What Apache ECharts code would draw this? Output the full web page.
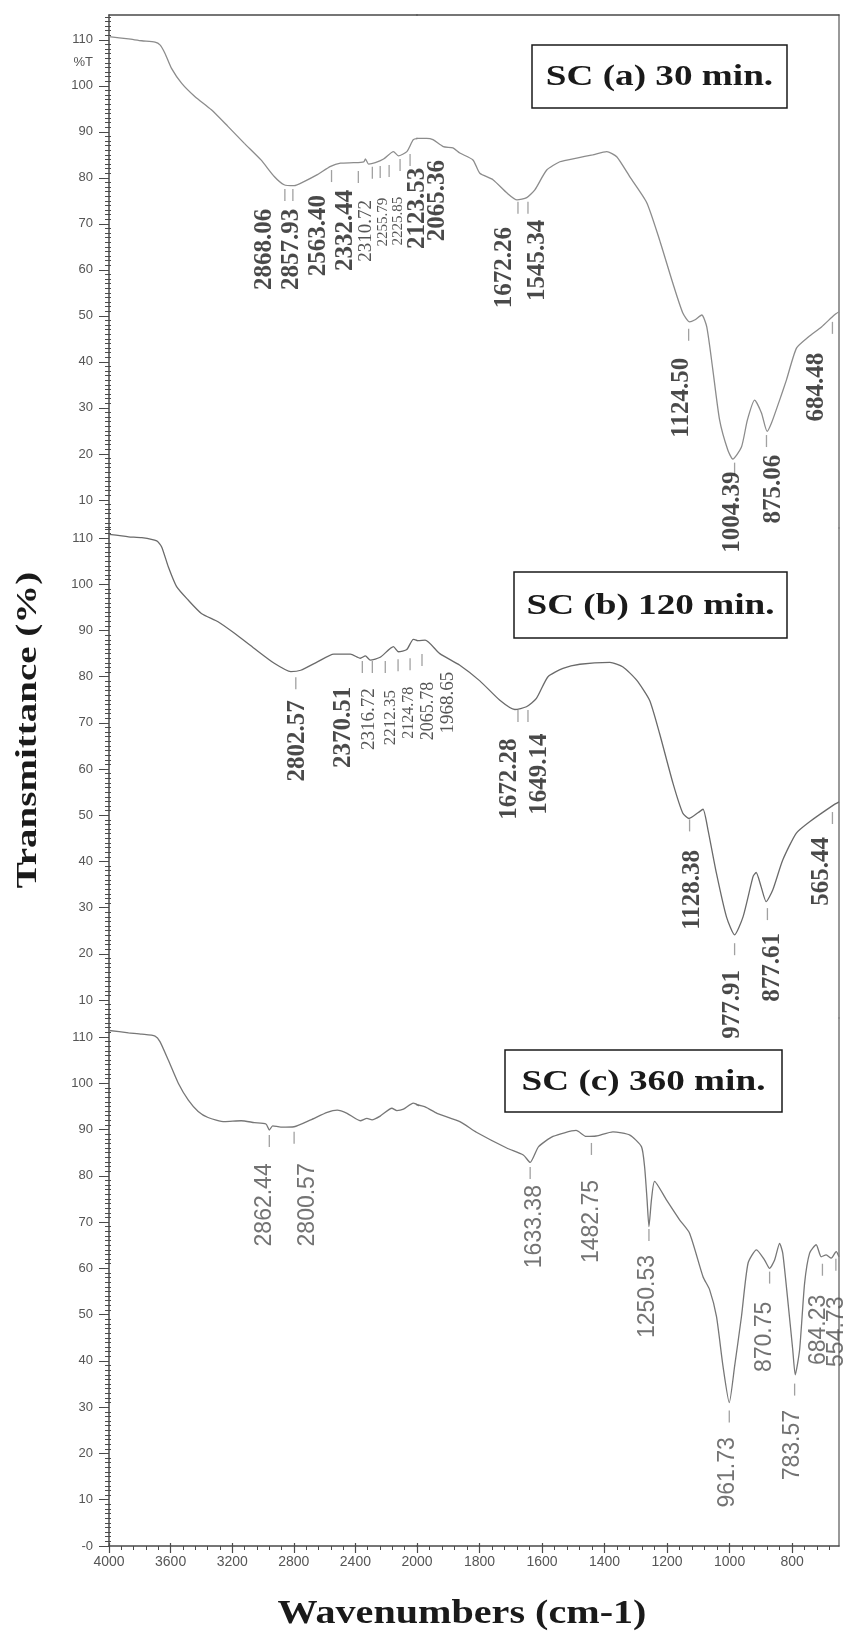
<!DOCTYPE html>
<html>
<head>
<meta charset="utf-8">
<script src="https://cdn.jsdelivr.net/npm/echarts@6.0.0/dist/echarts.min.js"></script>
<style>
  html, body { margin: 0; padding: 0; background: #fff; }
  #chart { width: 851px; height: 1635px; }
</style>
</head>
<body>
<div id="chart"></div>
<script>
// FTIR spectra, wavenumber (cm-1) vs %T
const waveA = [4000,3873,3787,3701,3669,3637,3594,3529,3443,3335,3228,3121,3013,2927,2863,2798,2734,2647,2561,2497,2411,2346,2335,2314,2271,2217,2153,2121,2066,2024,1996,1969,1949,1916,1885,1863,1821,1799,1757,1712,1680,1649,1623,1585,1543,1489,1438,1393,1361,1319,1265,1224,1182,1150,1128,1112,1089,1073,1054,1032,1006,990,962,943,920,898,880,866,840,818,786,748,706,665,650];
const transA = [110.7,110.2,109.8,109.5,108.9,107.1,103.8,100.6,97.7,94.8,91.2,87.5,83.9,80.3,78.5,78.3,79.2,80.7,82.5,83.2,83.3,83.5,84.1,83.0,83.3,84.1,85.7,84.8,85.7,88.3,88.6,88.6,88.3,86.8,86.5,85.4,83.9,81.0,79.6,76.7,75.2,75.7,77.4,81.7,83.5,84.3,85.0,85.7,84.6,80.2,74.6,66.5,57.2,50.7,48.7,49.1,50.2,47.6,38.5,27.4,20.9,18.9,21.5,27.4,31.7,28.9,24.9,26.7,31.7,36.1,43.0,45.4,47.6,50.2,50.9];

const waveB = [4000,3873,3787,3690,3658,3615,3561,3486,3400,3292,3185,3056,2927,2819,2755,2647,2540,2432,2368,2335,2303,2239,2153,2121,2066,2024,1996,1974,1927,1863,1799,1735,1687,1650,1618,1581,1533,1479,1383,1341,1298,1256,1224,1181,1150,1130,1100,1085,1069,1042,1010,984,957,925,915,899,883,862,830,787,744,668,650];
const transB = [110.8,110.3,110.1,109.4,108.1,103.8,99.5,96.6,93.7,91.9,89.4,86.1,82.9,81.1,81.4,83.2,84.9,84.9,84.0,84.5,83.6,84.2,86.5,85.4,85.9,88.1,87.8,87.9,85.0,82.5,79.1,74.9,72.9,73.5,75.3,80.0,81.8,82.7,83.1,82.1,79.3,74.9,67.7,56.9,50.5,49.3,50.6,51.3,46.8,37.4,28.0,24.1,28.0,36.7,37.6,34.5,31.3,33.8,40.3,46.1,48.6,52.2,52.9];

const waveC = [4000,3873,3787,3701,3669,3615,3550,3486,3421,3357,3250,3142,3056,2981,2959,2937,2884,2798,2690,2583,2518,2454,2368,2325,2292,2239,2163,2131,2088,2024,1974,1936,1863,1810,1713,1660,1638,1611,1565,1491,1459,1427,1373,1319,1282,1272,1264,1258,1250,1240,1202,1160,1128,1085,1064,1042,1021,1001,984,962,941,914,888,872,856,840,830,814,798,790,776,760,744,723,707,691,675,659,650];
const transC = [111.4,110.9,110.6,110.2,109.0,105.0,100.0,96.4,93.9,92.6,91.7,91.9,91.5,91.2,89.9,90.8,90.5,90.6,92.1,93.7,94.2,93.5,91.9,92.4,92.1,92.9,94.6,94.1,94.4,95.7,94.9,93.5,91.7,89.4,86.0,84.5,82.9,86.3,88.5,89.8,88.5,88.6,89.5,88.8,86.3,82.0,74.8,69.0,74.8,78.8,74.8,70.5,67.6,58.2,55.4,49.6,38.8,31.0,38.8,49.6,61.1,64.0,61.8,60.0,61.8,65.4,63.3,53.2,42.4,37.0,42.4,56.8,63.3,65.1,62.5,62.9,62.2,63.6,62.5];

// peak picks: text, where the text stands (wave, top %T), where its little marker sits
const peakTextA = ['2868.06','2857.93','2563.40','2332.44','2310.72','2255.79','2225.85','2123.53','2065.36','1672.26','1545.34','1124.50','1004.39','875.06','684.48'];
const labelWaveA = [2987,2813,2639,2465,2329,2219,2123,1997,1933,1719,1613,1153,991,859,722];
const labelTopA = [73.3,73.3,76.3,77.4,75.2,75.7,75.9,82.2,83.9,69.3,70.9,40.9,16.2,19.8,42.0];
const markWaveA = [2858,2806,2555,2381,2290,2239,2181,2110,2045,1677,1645,1131,984,882,671];
const markTA = [76.3,76.3,80.4,80.2,81.1,81.3,81.5,82.8,83.9,73.5,73.5,45.9,16.8,22.8,47.4];

const peakTextB = ['2802.57','2370.51','2316.72','2212.35','2124.78','2065.78','1968.65','1672.28','1649.14','1128.38','977.91','877.61','565.44'];
const labelWaveB = [2776,2475,2314,2174,2056,1964,1900,1703,1607,1117,990,862,707];
const labelTopB = [74.9,77.8,77.5,77.1,77.8,78.9,81.1,66.6,67.7,42.5,16.5,24.5,45.3];
const markWaveB = [2787,2355,2290,2206,2123,2045,1984,1677,1645,1128,984,879,671];
const markTB = [78.6,82.1,82.1,82.1,82.5,82.7,83.6,71.5,71.5,47.8,21.0,28.6,49.4];

const peakTextC = ['2862.44','2800.57','1633.38','1482.75','1250.53','961.73','870.75','783.57','684.23','554.73'];
const labelWaveC = [2992,2712,1623,1442,1261,1005,888,797,716,657];
const labelTopC = [82.7,82.7,78.0,79.1,62.9,23.5,52.8,29.4,54.3,53.9];
const markWaveC = [2959,2798,1638,1442,1258,1001,872,792,703,660];
const markTC = [87.5,88.2,80.6,85.8,67.2,28.0,58.0,33.8,59.7,60.8];

// tick labels
const xMajorHigh = [4000, 3600, 3200, 2800, 2400, 2000];
const xMajorLow = [1800, 1600, 1400, 1200, 1000, 800];
const yMajor = [10, 20, 30, 40, 50, 60, 70, 80, 90, 100, 110];
const yMajorC = [0, 10, 20, 30, 40, 50, 60, 70, 80, 90, 100, 110];

// small print peak labels (font size)
const smallA = { '2310.72': 19, '2255.79': 15, '2225.85': 15 };
const smallB = { '2316.72': 19, '2212.35': 17, '2124.78': 16, '2065.78': 18, '1968.65': 19 };

const SPLIT = 2000; // scale doubles below 2000 cm-1
const X_LEFT = 109, X_MID = 417, X_RIGHT = 839;
const AXIS = '#4a4a4a';

const xMinorHigh = [];
for (let w = 3920; w > SPLIT; w -= 80) if (w % 400) xMinorHigh.push(w);
const xMinorLow = [];
for (let w = 1960; w > 650; w -= 40) if (w % 200) xMinorLow.push(w);

function yMinor(min, max) {
  const out = [];
  for (let v = Math.ceil(min); v <= max; v++) if (v % 10) out.push(v);
  return out;
}

const panels = [
  {
    wave: waveA, trans: transA, text: peakTextA, lw: labelWaveA, lt: labelTopA, mw: markWaveA, mt: markTA,
    top: 15, height: 513, yMin: 3.9, yMax: 115.4, yTicks: yMajor, yLabels: yMajor.concat([105]),
    color: '#8c8c8c', font: 'Liberation Serif', weight: 'bold', size: 25, textColor: '#1c1c1c',
    small: smallA, topLine: true, bottomAxis: false
  },
  {
    wave: waveB, trans: transB, text: peakTextB, lw: labelWaveB, lt: labelTopB, mw: markWaveB, mt: markTB,
    top: 528, height: 490, yMin: 6.1, yMax: 112.2, yTicks: yMajor, yLabels: yMajor,
    color: '#6a6a6a', font: 'Liberation Serif', weight: 'bold', size: 25, textColor: '#1c1c1c',
    small: smallB, topLine: false, bottomAxis: false
  },
  {
    wave: waveC, trans: transC, text: peakTextC, lw: labelWaveC, lt: labelTopC, mw: markWaveC, mt: markTC,
    top: 1018, height: 528, yMin: 0, yMax: 114.1, yTicks: yMajorC, yLabels: yMajorC,
    color: '#777777', font: 'Liberation Sans', weight: 'normal', size: 23, textColor: '#505050',
    small: {}, topLine: false, bottomAxis: true
  }
];

function plain(extra) {
  return Object.assign({
    type: 'value',
    splitLine: { show: false },
    axisLine: { show: false, onZero: false },
    axisTick: { show: false },
    axisLabel: { show: false }
  }, extra);
}

function splitLine(wave, trans) {
  const pts = wave.map((w, i) => [w, trans[i]]);
  const hi = [], lo = [];
  pts.forEach((p, i) => {
    if (p[0] >= SPLIT || (i > 0 && pts[i - 1][0] > SPLIT)) hi.push(p);
    if (p[0] <= SPLIT || (i < pts.length - 1 && pts[i + 1][0] < SPLIT)) lo.push(p);
  });
  return [hi, lo];
}

const grid = [], xAxis = [], yAxis = [], series = [];

panels.forEach((p) => {
  const g0 = grid.length;
  grid.push({ left: X_LEFT, top: p.top, width: X_MID - X_LEFT, height: p.height, outerBoundsMode: 'none' });
  grid.push({ left: X_MID, top: p.top, width: X_RIGHT - X_MID, height: p.height, outerBoundsMode: 'none' });
  const lines = splitLine(p.wave, p.trans);
  const sides = [
    { g: g0, min: SPLIT, max: 4000, major: xMajorHigh, minor: xMinorHigh, keep: (w) => w >= SPLIT },
    { g: g0 + 1, min: 650, max: SPLIT, major: xMajorLow, minor: xMinorLow, keep: (w) => w < SPLIT }
  ];

  sides.forEach((s, side) => {
    const xi = xAxis.length;
    const xMain = plain({ gridIndex: s.g, min: s.min, max: s.max, inverse: true, position: p.topLine ? 'top' : 'bottom' });
    if (p.topLine) xMain.axisLine = { show: true, onZero: false, lineStyle: { color: AXIS, width: 1.5 } };
    if (p.bottomAxis) {
      xMain.axisLine = { show: true, onZero: false, lineStyle: { color: AXIS, width: 1.5 } };
      xMain.axisTick = { show: true, length: 7, customValues: s.major, lineStyle: { color: AXIS, width: 1.2 } };
      xMain.axisLabel = {
        show: true, customValues: s.major, margin: 9,
        fontFamily: 'Liberation Sans', fontSize: 14, color: '#555',
        formatter: (v) => String(v)
      };
    }
    xAxis.push(xMain);
    if (p.bottomAxis) {
      xAxis.push(plain({
        gridIndex: s.g, min: s.min, max: s.max, inverse: true, position: 'bottom',
        axisTick: { show: true, length: 4, customValues: s.minor, lineStyle: { color: AXIS, width: 1 } }
      }));
      xAxis.push(plain({
        gridIndex: s.g, min: s.min, max: s.max, inverse: true, position: 'bottom',
        axisTick: { show: true, inside: true, length: 3, customValues: s.major, lineStyle: { color: AXIS, width: 1.2 } }
      }));
    }

    const yi = yAxis.length;
    if (side === 0) {
      yAxis.push(plain({
        gridIndex: s.g, min: p.yMin, max: p.yMax, position: 'left',
        axisLine: { show: true, onZero: false, lineStyle: { color: AXIS, width: 1.5 } },
        axisTick: { show: true, length: 10, customValues: p.yTicks, lineStyle: { color: AXIS, width: 1 } },
        axisLabel: {
          show: true, customValues: p.yLabels, margin: 16,
          fontFamily: 'Liberation Sans', fontSize: 13, color: '#555',
          formatter: (v) => (v === 105 ? '%T' : v === 0 ? '-0' : String(v))
        }
      }));
      const minor = yMinor(p.yMin, p.yMax);
      yAxis.push(plain({
        gridIndex: s.g, min: p.yMin, max: p.yMax, position: 'left',
        axisTick: { show: true, length: 4, customValues: minor, lineStyle: { color: AXIS, width: 1 } }
      }));
      yAxis.push(plain({
        gridIndex: s.g, min: p.yMin, max: p.yMax, position: 'left',
        axisTick: { show: true, inside: true, length: 2, customValues: minor, lineStyle: { color: AXIS, width: 1 } }
      }));
    } else {
      yAxis.push(plain({
        gridIndex: s.g, min: p.yMin, max: p.yMax, position: 'right',
        axisLine: { show: true, onZero: false, lineStyle: { color: '#777', width: 1.5 } }
      }));
    }

    series.push({
      type: 'line', xAxisIndex: xi, yAxisIndex: yi,
      data: lines[side], symbol: 'none', clip: true, silent: true, smooth: 0.2,
      lineStyle: { color: p.color, width: 1.3 }
    });

    const marks = p.mw.map((w, i) => i).filter((i) => s.keep(p.mw[i]));
    series.push({
      type: 'scatter', xAxisIndex: xi, yAxisIndex: yi, silent: true,
      symbol: 'rect', symbolSize: [1.3, 12],
      itemStyle: { color: '#8a8a8a' },
      data: marks.map((i) => [p.mw[i], p.mt[i]])
    });

    const labels = p.lw.map((w, i) => i).filter((i) => s.keep(p.lw[i]));
    series.push({
      type: 'scatter', xAxisIndex: xi, yAxisIndex: yi, silent: true, clip: false,
      symbolSize: 1, itemStyle: { color: 'rgba(0,0,0,0)' },
      label: {
        show: true, position: 'inside', rotate: 90, align: 'right', verticalAlign: 'middle',
        formatter: '{b}', fontFamily: p.font, fontWeight: p.weight, fontSize: p.size, color: p.textColor
      },
      data: labels.map((i) => {
        const small = p.small[p.text[i]];
        const item = { name: p.text[i], value: [p.lw[i], p.lt[i]] };
        if (small) item.label = { fontSize: small, fontWeight: 'normal', color: '#2a2a2a' };
        return item;
      })
    });
  });
});

const titleBoxes = [
  { text: 'SC (a) 30 min.', x: 532, y: 45, w: 255, h: 63 },
  { text: 'SC (b) 120 min.', x: 514, y: 572, w: 273, h: 66 },
  { text: 'SC (c) 360 min.', x: 505, y: 1050, w: 277, h: 62 }
];

const graphic = [];
titleBoxes.forEach((b) => {
  graphic.push({
    type: 'rect', z: 100,
    shape: { x: b.x, y: b.y, width: b.w, height: b.h },
    style: { fill: '#fff', stroke: '#1a1a1a', lineWidth: 1.5 }
  });
  graphic.push({
    type: 'text', z: 101, x: b.x + b.w / 2, y: b.y + b.h / 2 + 1, scaleX: 1.24,
    style: { text: b.text, font: 'bold 30px "Liberation Serif"', fill: '#1a1a1a', align: 'center', verticalAlign: 'middle' }
  });
});
graphic.push({
  type: 'text', z: 101, x: 28, y: 730, rotation: Math.PI / 2, scaleX: 1.3,
  style: { text: 'Transmittance (%)', font: 'bold 30px "Liberation Serif"', fill: '#1a1a1a', align: 'center', verticalAlign: 'middle' }
});
graphic.push({
  type: 'text', z: 101, x: 462, y: 1614, scaleX: 1.18,
  style: { text: 'Wavenumbers (cm-1)', font: 'bold 34px "Liberation Serif"', fill: '#1a1a1a', align: 'center', verticalAlign: 'middle' }
});

const chart = echarts.init(document.getElementById('chart'));
chart.setOption({
  animation: false,
  backgroundColor: '#ffffff',
  grid: grid,
  xAxis: xAxis,
  yAxis: yAxis,
  series: series,
  graphic: graphic
});
</script>
</body>
</html>
